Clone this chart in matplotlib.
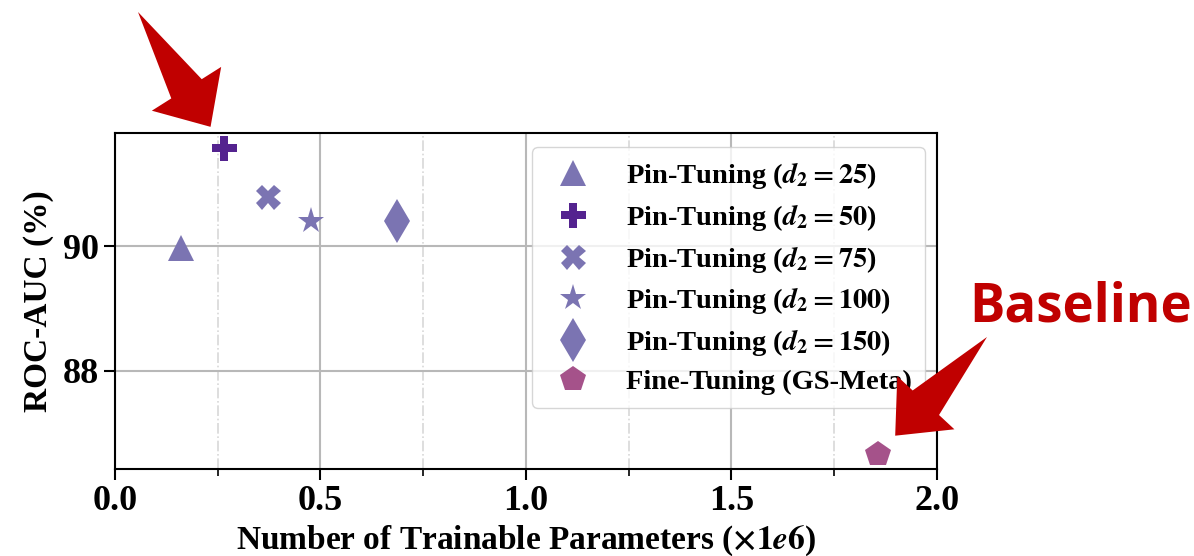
import matplotlib
matplotlib.use("Agg")
import numpy as np
import matplotlib.pyplot as plt
from matplotlib.patches import Polygon
from matplotlib.transforms import IdentityTransform
from matplotlib.ticker import MultipleLocator

plt.rcParams['font.family'] = 'Liberation Serif'
plt.rcParams['font.weight'] = 'bold'
plt.rcParams['axes.labelweight'] = 'bold'
plt.rcParams['mathtext.fontset'] = 'stix'

# data
labels = [r'Pin-Tuning ($\mathbfit{d}_\mathbf{2}\mathbf{=25}$)',
          r'Pin-Tuning ($\mathbfit{d}_\mathbf{2}\mathbf{=50}$)',
          r'Pin-Tuning ($\mathbfit{d}_\mathbf{2}\mathbf{=75}$)',
          r'Pin-Tuning ($\mathbfit{d}_\mathbf{2}\mathbf{=100}$)',
          r'Pin-Tuning ($\mathbfit{d}_\mathbf{2}\mathbf{=150}$)',
          'Fine-Tuning (GS-Meta)']
params = [0.16, 0.265, 0.372, 0.477, 0.686, 1.857]
auc = [89.97, 91.57, 90.78, 90.40, 90.40, 86.67]
markers = ['^', 'P', 'X', '*', 'd', 'p']
colors = ['#7b74b2', '#54238f', '#7b74b2', '#7b74b2', '#7b74b2', '#a5528a']
sizes = [19, 18, 18, 20, 22, 19]

fig = plt.figure(figsize=(11.94, 5.56), dpi=100)
ax = fig.add_axes([0.0963, 0.1565, 0.6884, 0.6043])

for x, y, m, c, s, lab in zip(params, auc, markers, colors, sizes, labels):
    ax.plot(x, y, linestyle='none', marker=m, color=c, markersize=s,
            markeredgewidth=0, label=lab, zorder=3)

ax.set_xlim(0, 2.0)
ax.set_ylim(86.43, 91.81)
ax.xaxis.set_major_locator(MultipleLocator(0.5))
ax.xaxis.set_minor_locator(MultipleLocator(0.25))
ax.yaxis.set_major_locator(MultipleLocator(2))
ax.grid(which='major', color='#b8b8b8', linewidth=1.5)
ax.grid(which='minor', axis='x', color='#d8d8d8', linewidth=1.2, linestyle='-.')
ax.tick_params(which='major', labelsize=26, length=8, width=1.5)
ax.tick_params(which='minor', length=5, width=1.2)
for sp in ax.spines.values():
    sp.set_linewidth(1.5)

ax.set_xlabel(r'Number of Trainable Parameters ($\mathbf{\times 1}\mathbfit{e}\mathbf{6}$)',
              fontsize=24, labelpad=4)
ax.set_ylabel('ROC-AUC (%)', fontsize=24, labelpad=6)

leg = ax.legend(loc='upper right', fontsize=20.5, handletextpad=0.85,
                labelspacing=0.38, borderpad=0.45, borderaxespad=0,
                framealpha=0.8, edgecolor='#cccccc', fancybox=True,
                bbox_to_anchor=(0.985, 0.958))
leg.set_zorder(5)

# red annotation arrows (flat PowerPoint-like shape)
red = '#c00000'


def fat_arrow(tail_px, xy, shrink=25, head_len=45, head_w=82, tail_w=36):
    tip = ax.transData.transform(xy)
    tail = np.array(tail_px, float)
    u = tip - tail
    u /= np.hypot(*u)
    tip = tip - u * shrink
    n = np.array([-u[1], u[0]])
    base = tip - u * head_len
    pts = [tail,
           base + n * tail_w / 2, base + n * head_w / 2, tip,
           base - n * head_w / 2, base - n * tail_w / 2]
    fig.patches.append(Polygon(pts, closed=True, facecolor=red, edgecolor='none',
                               transform=IdentityTransform(), zorder=8))


fat_arrow((138, 544), (params[1], auc[1]), shrink=25)
fat_arrow((987, 219), (params[5], auc[5]), shrink=25, head_w=78)

fig.text(0.905, 0.447, 'Baseline', color=red, fontsize=38, fontweight='bold',
         family='Open Sans', ha='center', va='center')

fig.savefig('out.png', dpi=100)
